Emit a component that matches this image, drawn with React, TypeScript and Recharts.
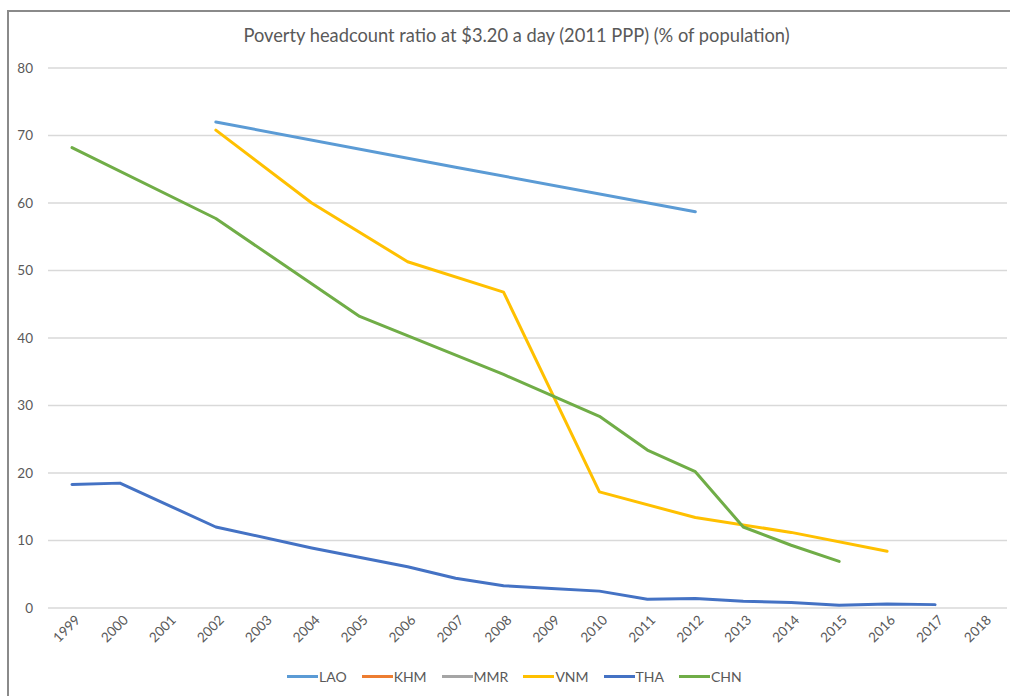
import React from "react";
import { LineChart, Line, XAxis, YAxis, CartesianGrid } from "recharts";

const years = [
  "1999", "2000", "2001", "2002", "2003", "2004", "2005", "2006", "2007", "2008",
  "2009", "2010", "2011", "2012", "2013", "2014", "2015", "2016", "2017", "2018",
];

type V = number | null;

const lao: V[] = [null, null, null, 72.0, null, null, null, null, 65.3, null, null, null, null, 58.7, null, null, null, null, null, null];
const khm: V[] = years.map(() => null);
const mmr: V[] = years.map(() => null);
const vnm: V[] = [null, null, null, 70.8, null, 60.0, null, 51.3, null, 46.8, null, 17.2, null, 13.4, null, 11.2, null, 8.4, null, null];
const tha: V[] = [18.3, 18.5, null, 12.0, null, 8.9, null, 6.1, 4.4, 3.3, 2.9, 2.5, 1.3, 1.4, 1.0, 0.8, 0.4, 0.6, 0.5, null];
const chn: V[] = [68.2, null, null, 57.7, null, null, 43.2, null, null, 34.6, null, 28.4, 23.4, 20.2, 12.0, 9.3, 6.9, null, null, null];

const yTicks = [0, 10, 20, 30, 40, 50, 60, 70, 80];

const series = [
  { key: "LAO", values: lao, color: "#5B9BD5" },
  { key: "KHM", values: khm, color: "#ED7D31" },
  { key: "MMR", values: mmr, color: "#A5A5A5" },
  { key: "VNM", values: vnm, color: "#FFC000" },
  { key: "THA", values: tha, color: "#4472C4" },
  { key: "CHN", values: chn, color: "#70AD47" },
];

const data = years.map((year, i) => {
  const row: Record<string, string | number | null> = { year };
  series.forEach((s) => {
    row[s.key] = s.values[i];
  });
  return row;
});

const FONT = "Lato, 'Liberation Sans', sans-serif";
const TEXT = "#595959";

function YearTick({ x, y, payload }: any) {
  const ax = x + 9;
  const ay = y + 5;
  return (
    <text
      x={ax}
      y={ay}
      transform={`rotate(-45, ${ax}, ${ay})`}
      textAnchor="end"
      fontSize={13.5}
      fontFamily={FONT}
      fill={TEXT}
    >
      {payload.value}
    </text>
  );
}

export default function App() {
  return (
    <div style={{ position: "absolute", left: 0, top: 0, width: 1010, height: 696, background: "#fff", fontFamily: FONT }}>
      <div style={{ position: "absolute", left: 8, top: 10, width: 1002, height: 2, background: "#8a8a8a" }} />
      <div style={{ position: "absolute", left: 7, top: 10, width: 2, height: 686, background: "#8a8a8a" }} />
      <div
        style={{
          position: "absolute",
          left: 0,
          top: 24,
          width: 1033,
          textAlign: "center",
          fontSize: 18.3,
          color: TEXT,
        }}
      >
        Poverty headcount ratio at $3.20 a day (2011 PPP) (% of population)
      </div>
      <div style={{ position: "absolute", left: 0, top: 0 }}>
        <LineChart width={1010} height={696} data={data} margin={{ top: 68, right: 3, bottom: 0, left: 0 }}>
          <CartesianGrid vertical={false} stroke="#d9d9d9" strokeWidth={1.5} />
          <XAxis
            dataKey="year"
            height={88}
            axisLine={false}
            tickLine={false}
            interval={0}
            padding={{ left: 24, right: 24 }}
            tick={<YearTick />}
          />
          <YAxis
            width={48}
            domain={[0, 80]}
            ticks={yTicks}
            axisLine={false}
            tickLine={false}
            tickMargin={9}
            tick={{ fontSize: 13.5, fill: TEXT, fontFamily: FONT }}
          />
          {series.map((s) => (
            <Line
              key={s.key}
              type="linear"
              dataKey={s.key}
              stroke={s.color}
              strokeWidth={3}
              strokeLinecap="round"
              strokeLinejoin="round"
              dot={false}
              activeDot={false}
              connectNulls
              isAnimationActive={false}
            />
          ))}
        </LineChart>
      </div>
      <div
        style={{
          position: "absolute",
          left: 287,
          top: 668,
          display: "flex",
          alignItems: "center",
          gap: 15,
          fontSize: 14,
          color: TEXT,
        }}
      >
        {series.map((s) => (
          <div key={s.key} style={{ display: "flex", alignItems: "center" }}>
            <span style={{ display: "inline-block", width: 31, height: 3, background: s.color, marginRight: 1 }} />
            <span>{s.key}</span>
          </div>
        ))}
      </div>
    </div>
  );
}
